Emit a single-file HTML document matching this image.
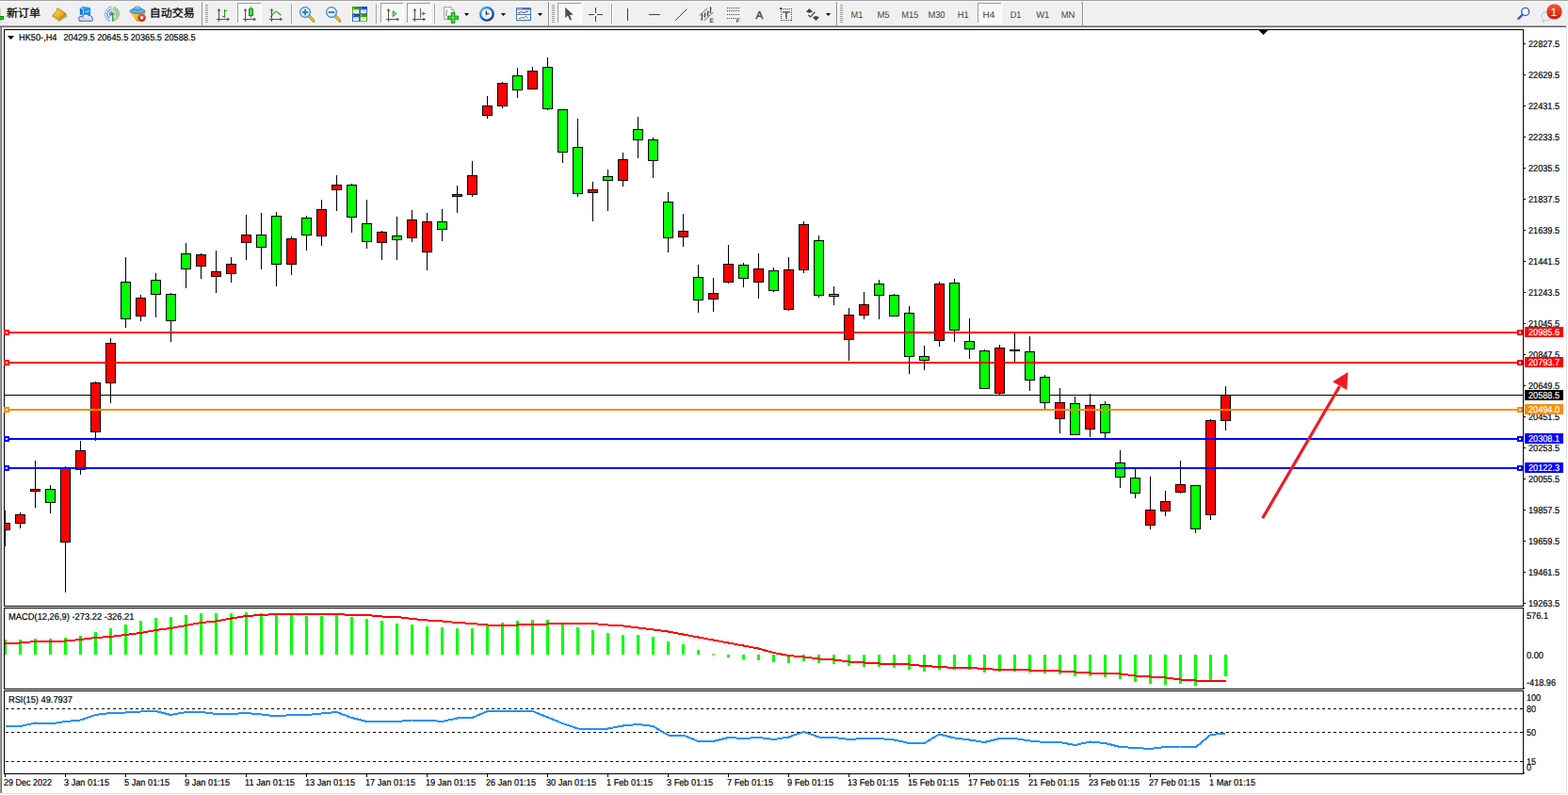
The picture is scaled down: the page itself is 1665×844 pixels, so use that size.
<!DOCTYPE html>
<html><head><meta charset="utf-8"><title>HK50-,H4</title>
<style>
html,body{margin:0;padding:0;background:#fff;}
body{width:1665px;height:844px;overflow:hidden;position:relative;font-family:"Liberation Sans",sans-serif;}
svg{position:absolute;left:0;top:0;display:block}
svg text{font-family:"Liberation Sans",sans-serif;text-rendering:geometricPrecision;}
</style></head><body>
<svg id="chart" width="1665" height="844" viewBox="0 0 1665 844" shape-rendering="crispEdges">
<rect x="0" y="27" width="1" height="815" fill="#a0a0a0"/>
<rect x="1" y="27" width="1" height="815" fill="#696969"/>
<rect x="2" y="842" width="1662" height="1" fill="#e3e3e3"/>
<rect x="1663" y="29" width="1" height="814" fill="#e3e3e3"/>
<rect x="4" y="31" width="1614" height="1" fill="#000"/>
<rect x="4" y="643" width="1614" height="1" fill="#000"/>
<rect x="4" y="31" width="1" height="613" fill="#000"/>
<rect x="1617" y="31" width="1" height="613" fill="#000"/>
<rect x="4" y="645" width="1614" height="1" fill="#000"/>
<rect x="4" y="731" width="1614" height="1" fill="#000"/>
<rect x="4" y="645" width="1" height="87" fill="#000"/>
<rect x="1617" y="645" width="1" height="87" fill="#000"/>
<rect x="4" y="733" width="1614" height="1" fill="#000"/>
<rect x="4" y="821" width="1614" height="1" fill="#000"/>
<rect x="4" y="733" width="1" height="89" fill="#000"/>
<rect x="1617" y="733" width="1" height="89" fill="#000"/>
<rect x="4" y="644" width="1614" height="1" fill="#f0f0f0"/>
<rect x="4" y="732" width="1614" height="1" fill="#f0f0f0"/>
<rect x="1618" y="730" width="1" height="1" fill="#000"/>
<rect x="1618" y="820" width="1" height="1" fill="#000"/>
<rect x="1337" y="32" width="9" height="1" fill="#000"/>
<rect x="1338" y="33" width="7" height="1" fill="#000"/>
<rect x="1339" y="34" width="5" height="1" fill="#000"/>
<rect x="1340" y="35" width="3" height="1" fill="#000"/>
<rect x="1341" y="36" width="1" height="1" fill="#000"/>
<rect x="5" y="419" width="1612" height="1" fill="#000"/>
<rect x="5" y="542" width="1" height="38" fill="#000"/>
<rect x="5" y="555" width="6" height="8" fill="#000"/>
<rect x="5" y="556" width="5" height="6" fill="#ff0000"/>
<rect x="21" y="544" width="1" height="17" fill="#000"/>
<rect x="16" y="546" width="11" height="10" fill="#000"/>
<rect x="17" y="547" width="9" height="8" fill="#ff0000"/>
<rect x="37" y="489" width="1" height="50" fill="#000"/>
<rect x="32" y="519" width="11" height="3" fill="#000"/>
<rect x="33" y="520" width="9" height="1" fill="#ff0000"/>
<rect x="53" y="515" width="1" height="30" fill="#000"/>
<rect x="48" y="519" width="11" height="15" fill="#000"/>
<rect x="49" y="520" width="9" height="13" fill="#00ff00"/>
<rect x="69" y="495" width="1" height="134" fill="#000"/>
<rect x="64" y="497" width="11" height="79" fill="#000"/>
<rect x="65" y="498" width="9" height="77" fill="#ff0000"/>
<rect x="85" y="468" width="1" height="36" fill="#000"/>
<rect x="80" y="478" width="11" height="21" fill="#000"/>
<rect x="81" y="479" width="9" height="19" fill="#ff0000"/>
<rect x="101" y="405" width="1" height="63" fill="#000"/>
<rect x="96" y="406" width="11" height="53" fill="#000"/>
<rect x="97" y="407" width="9" height="51" fill="#ff0000"/>
<rect x="117" y="359" width="1" height="69" fill="#000"/>
<rect x="112" y="364" width="11" height="43" fill="#000"/>
<rect x="113" y="365" width="9" height="41" fill="#ff0000"/>
<rect x="133" y="273" width="1" height="75" fill="#000"/>
<rect x="128" y="299" width="11" height="40" fill="#000"/>
<rect x="129" y="300" width="9" height="38" fill="#00ff00"/>
<rect x="149" y="313" width="1" height="28" fill="#000"/>
<rect x="144" y="316" width="11" height="20" fill="#000"/>
<rect x="145" y="317" width="9" height="18" fill="#ff0000"/>
<rect x="165" y="290" width="1" height="47" fill="#000"/>
<rect x="160" y="297" width="11" height="16" fill="#000"/>
<rect x="161" y="298" width="9" height="14" fill="#00ff00"/>
<rect x="181" y="311" width="1" height="52" fill="#000"/>
<rect x="176" y="312" width="11" height="29" fill="#000"/>
<rect x="177" y="313" width="9" height="27" fill="#00ff00"/>
<rect x="197" y="258" width="1" height="48" fill="#000"/>
<rect x="192" y="269" width="11" height="17" fill="#000"/>
<rect x="193" y="270" width="9" height="15" fill="#00ff00"/>
<rect x="213" y="269" width="1" height="27" fill="#000"/>
<rect x="208" y="270" width="11" height="13" fill="#000"/>
<rect x="209" y="271" width="9" height="11" fill="#ff0000"/>
<rect x="229" y="266" width="1" height="45" fill="#000"/>
<rect x="224" y="288" width="11" height="6" fill="#000"/>
<rect x="225" y="289" width="9" height="4" fill="#ff0000"/>
<rect x="245" y="273" width="1" height="27" fill="#000"/>
<rect x="240" y="280" width="11" height="11" fill="#000"/>
<rect x="241" y="281" width="9" height="9" fill="#ff0000"/>
<rect x="261" y="228" width="1" height="48" fill="#000"/>
<rect x="256" y="249" width="11" height="9" fill="#000"/>
<rect x="257" y="250" width="9" height="7" fill="#ff0000"/>
<rect x="277" y="226" width="1" height="60" fill="#000"/>
<rect x="272" y="249" width="11" height="14" fill="#000"/>
<rect x="273" y="250" width="9" height="12" fill="#00ff00"/>
<rect x="293" y="225" width="1" height="79" fill="#000"/>
<rect x="288" y="229" width="11" height="52" fill="#000"/>
<rect x="289" y="230" width="9" height="50" fill="#00ff00"/>
<rect x="309" y="251" width="1" height="41" fill="#000"/>
<rect x="304" y="253" width="11" height="28" fill="#000"/>
<rect x="305" y="254" width="9" height="26" fill="#ff0000"/>
<rect x="325" y="229" width="1" height="37" fill="#000"/>
<rect x="320" y="231" width="11" height="19" fill="#000"/>
<rect x="321" y="232" width="9" height="17" fill="#00ff00"/>
<rect x="341" y="212" width="1" height="49" fill="#000"/>
<rect x="336" y="222" width="11" height="29" fill="#000"/>
<rect x="337" y="223" width="9" height="27" fill="#ff0000"/>
<rect x="357" y="186" width="1" height="38" fill="#000"/>
<rect x="352" y="196" width="11" height="6" fill="#000"/>
<rect x="353" y="197" width="9" height="4" fill="#ff0000"/>
<rect x="373" y="195" width="1" height="52" fill="#000"/>
<rect x="368" y="196" width="11" height="35" fill="#000"/>
<rect x="369" y="197" width="9" height="33" fill="#00ff00"/>
<rect x="389" y="212" width="1" height="52" fill="#000"/>
<rect x="384" y="237" width="11" height="20" fill="#000"/>
<rect x="385" y="238" width="9" height="18" fill="#00ff00"/>
<rect x="405" y="245" width="1" height="31" fill="#000"/>
<rect x="400" y="246" width="11" height="12" fill="#000"/>
<rect x="401" y="247" width="9" height="10" fill="#ff0000"/>
<rect x="421" y="230" width="1" height="46" fill="#000"/>
<rect x="416" y="250" width="11" height="5" fill="#000"/>
<rect x="417" y="251" width="9" height="3" fill="#00ff00"/>
<rect x="437" y="223" width="1" height="34" fill="#000"/>
<rect x="432" y="233" width="11" height="20" fill="#000"/>
<rect x="433" y="234" width="9" height="18" fill="#ff0000"/>
<rect x="453" y="226" width="1" height="61" fill="#000"/>
<rect x="448" y="235" width="11" height="33" fill="#000"/>
<rect x="449" y="236" width="9" height="31" fill="#ff0000"/>
<rect x="469" y="222" width="1" height="34" fill="#000"/>
<rect x="464" y="235" width="11" height="9" fill="#000"/>
<rect x="465" y="236" width="9" height="7" fill="#00ff00"/>
<rect x="485" y="197" width="1" height="29" fill="#000"/>
<rect x="480" y="206" width="11" height="3" fill="#000"/>
<rect x="481" y="207" width="9" height="1" fill="#ff0000"/>
<rect x="501" y="171" width="1" height="38" fill="#000"/>
<rect x="496" y="186" width="11" height="21" fill="#000"/>
<rect x="497" y="187" width="9" height="19" fill="#ff0000"/>
<rect x="517" y="102" width="1" height="24" fill="#000"/>
<rect x="512" y="112" width="11" height="11" fill="#000"/>
<rect x="513" y="113" width="9" height="9" fill="#ff0000"/>
<rect x="533" y="87" width="1" height="28" fill="#000"/>
<rect x="528" y="88" width="11" height="25" fill="#000"/>
<rect x="529" y="89" width="9" height="23" fill="#ff0000"/>
<rect x="549" y="72" width="1" height="32" fill="#000"/>
<rect x="544" y="80" width="11" height="16" fill="#000"/>
<rect x="545" y="81" width="9" height="14" fill="#00ff00"/>
<rect x="565" y="71" width="1" height="23" fill="#000"/>
<rect x="560" y="75" width="11" height="20" fill="#000"/>
<rect x="561" y="76" width="9" height="18" fill="#ff0000"/>
<rect x="581" y="61" width="1" height="56" fill="#000"/>
<rect x="576" y="71" width="11" height="45" fill="#000"/>
<rect x="577" y="72" width="9" height="43" fill="#00ff00"/>
<rect x="597" y="116" width="1" height="57" fill="#000"/>
<rect x="592" y="116" width="11" height="46" fill="#000"/>
<rect x="593" y="117" width="9" height="44" fill="#00ff00"/>
<rect x="613" y="126" width="1" height="83" fill="#000"/>
<rect x="608" y="156" width="11" height="50" fill="#000"/>
<rect x="609" y="157" width="9" height="48" fill="#00ff00"/>
<rect x="629" y="193" width="1" height="42" fill="#000"/>
<rect x="624" y="201" width="11" height="4" fill="#000"/>
<rect x="625" y="202" width="9" height="2" fill="#ff0000"/>
<rect x="645" y="180" width="1" height="44" fill="#000"/>
<rect x="640" y="187" width="11" height="5" fill="#000"/>
<rect x="641" y="188" width="9" height="3" fill="#00ff00"/>
<rect x="661" y="162" width="1" height="36" fill="#000"/>
<rect x="656" y="169" width="11" height="23" fill="#000"/>
<rect x="657" y="170" width="9" height="21" fill="#ff0000"/>
<rect x="677" y="124" width="1" height="44" fill="#000"/>
<rect x="672" y="137" width="11" height="12" fill="#000"/>
<rect x="673" y="138" width="9" height="10" fill="#00ff00"/>
<rect x="693" y="146" width="1" height="43" fill="#000"/>
<rect x="688" y="148" width="11" height="23" fill="#000"/>
<rect x="689" y="149" width="9" height="21" fill="#00ff00"/>
<rect x="709" y="204" width="1" height="64" fill="#000"/>
<rect x="704" y="214" width="11" height="39" fill="#000"/>
<rect x="705" y="215" width="9" height="37" fill="#00ff00"/>
<rect x="725" y="227" width="1" height="35" fill="#000"/>
<rect x="720" y="245" width="11" height="7" fill="#000"/>
<rect x="721" y="246" width="9" height="5" fill="#ff0000"/>
<rect x="741" y="281" width="1" height="51" fill="#000"/>
<rect x="736" y="294" width="11" height="25" fill="#000"/>
<rect x="737" y="295" width="9" height="23" fill="#00ff00"/>
<rect x="757" y="295" width="1" height="36" fill="#000"/>
<rect x="752" y="311" width="11" height="7" fill="#000"/>
<rect x="753" y="312" width="9" height="5" fill="#ff0000"/>
<rect x="773" y="260" width="1" height="41" fill="#000"/>
<rect x="768" y="280" width="11" height="20" fill="#000"/>
<rect x="769" y="281" width="9" height="18" fill="#ff0000"/>
<rect x="789" y="279" width="1" height="26" fill="#000"/>
<rect x="784" y="281" width="11" height="15" fill="#000"/>
<rect x="785" y="282" width="9" height="13" fill="#00ff00"/>
<rect x="805" y="269" width="1" height="48" fill="#000"/>
<rect x="800" y="285" width="11" height="15" fill="#000"/>
<rect x="801" y="286" width="9" height="13" fill="#ff0000"/>
<rect x="821" y="284" width="1" height="26" fill="#000"/>
<rect x="816" y="287" width="11" height="22" fill="#000"/>
<rect x="817" y="288" width="9" height="20" fill="#00ff00"/>
<rect x="837" y="273" width="1" height="57" fill="#000"/>
<rect x="832" y="286" width="11" height="43" fill="#000"/>
<rect x="833" y="287" width="9" height="41" fill="#ff0000"/>
<rect x="853" y="235" width="1" height="55" fill="#000"/>
<rect x="848" y="238" width="11" height="49" fill="#000"/>
<rect x="849" y="239" width="9" height="47" fill="#ff0000"/>
<rect x="869" y="250" width="1" height="66" fill="#000"/>
<rect x="864" y="255" width="11" height="59" fill="#000"/>
<rect x="865" y="256" width="9" height="57" fill="#00ff00"/>
<rect x="885" y="304" width="1" height="20" fill="#000"/>
<rect x="880" y="312" width="11" height="3" fill="#000"/>
<rect x="881" y="313" width="9" height="1" fill="#00ff00"/>
<rect x="901" y="327" width="1" height="56" fill="#000"/>
<rect x="896" y="334" width="11" height="27" fill="#000"/>
<rect x="897" y="335" width="9" height="25" fill="#ff0000"/>
<rect x="917" y="310" width="1" height="29" fill="#000"/>
<rect x="912" y="323" width="11" height="12" fill="#000"/>
<rect x="913" y="324" width="9" height="10" fill="#ff0000"/>
<rect x="933" y="297" width="1" height="42" fill="#000"/>
<rect x="928" y="301" width="11" height="13" fill="#000"/>
<rect x="929" y="302" width="9" height="11" fill="#00ff00"/>
<rect x="949" y="312" width="1" height="23" fill="#000"/>
<rect x="944" y="313" width="11" height="23" fill="#000"/>
<rect x="945" y="314" width="9" height="21" fill="#00ff00"/>
<rect x="965" y="325" width="1" height="72" fill="#000"/>
<rect x="960" y="332" width="11" height="47" fill="#000"/>
<rect x="961" y="333" width="9" height="45" fill="#00ff00"/>
<rect x="981" y="367" width="1" height="26" fill="#000"/>
<rect x="976" y="378" width="11" height="5" fill="#000"/>
<rect x="977" y="379" width="9" height="3" fill="#00ff00"/>
<rect x="997" y="299" width="1" height="69" fill="#000"/>
<rect x="992" y="301" width="11" height="61" fill="#000"/>
<rect x="993" y="302" width="9" height="59" fill="#ff0000"/>
<rect x="1013" y="296" width="1" height="67" fill="#000"/>
<rect x="1008" y="300" width="11" height="51" fill="#000"/>
<rect x="1009" y="301" width="9" height="49" fill="#00ff00"/>
<rect x="1029" y="338" width="1" height="43" fill="#000"/>
<rect x="1024" y="362" width="11" height="9" fill="#000"/>
<rect x="1025" y="363" width="9" height="7" fill="#00ff00"/>
<rect x="1045" y="371" width="1" height="41" fill="#000"/>
<rect x="1040" y="372" width="11" height="41" fill="#000"/>
<rect x="1041" y="373" width="9" height="39" fill="#00ff00"/>
<rect x="1061" y="366" width="1" height="53" fill="#000"/>
<rect x="1056" y="369" width="11" height="49" fill="#000"/>
<rect x="1057" y="370" width="9" height="47" fill="#ff0000"/>
<rect x="1077" y="354" width="1" height="30" fill="#000"/>
<rect x="1072" y="371" width="11" height="2" fill="#000"/>
<rect x="1093" y="357" width="1" height="58" fill="#000"/>
<rect x="1088" y="373" width="11" height="31" fill="#000"/>
<rect x="1089" y="374" width="9" height="29" fill="#00ff00"/>
<rect x="1109" y="398" width="1" height="36" fill="#000"/>
<rect x="1104" y="400" width="11" height="28" fill="#000"/>
<rect x="1105" y="401" width="9" height="26" fill="#00ff00"/>
<rect x="1125" y="412" width="1" height="48" fill="#000"/>
<rect x="1120" y="427" width="11" height="18" fill="#000"/>
<rect x="1121" y="428" width="9" height="16" fill="#ff0000"/>
<rect x="1141" y="421" width="1" height="40" fill="#000"/>
<rect x="1136" y="428" width="11" height="34" fill="#000"/>
<rect x="1137" y="429" width="9" height="32" fill="#00ff00"/>
<rect x="1157" y="418" width="1" height="46" fill="#000"/>
<rect x="1152" y="430" width="11" height="26" fill="#000"/>
<rect x="1153" y="431" width="9" height="24" fill="#ff0000"/>
<rect x="1173" y="426" width="1" height="39" fill="#000"/>
<rect x="1168" y="429" width="11" height="31" fill="#000"/>
<rect x="1169" y="430" width="9" height="29" fill="#00ff00"/>
<rect x="1189" y="478" width="1" height="40" fill="#000"/>
<rect x="1184" y="491" width="11" height="16" fill="#000"/>
<rect x="1185" y="492" width="9" height="14" fill="#00ff00"/>
<rect x="1205" y="498" width="1" height="31" fill="#000"/>
<rect x="1200" y="507" width="11" height="17" fill="#000"/>
<rect x="1201" y="508" width="9" height="15" fill="#00ff00"/>
<rect x="1221" y="506" width="1" height="56" fill="#000"/>
<rect x="1216" y="541" width="11" height="17" fill="#000"/>
<rect x="1217" y="542" width="9" height="15" fill="#ff0000"/>
<rect x="1237" y="521" width="1" height="27" fill="#000"/>
<rect x="1232" y="532" width="11" height="11" fill="#000"/>
<rect x="1233" y="533" width="9" height="9" fill="#ff0000"/>
<rect x="1253" y="489" width="1" height="35" fill="#000"/>
<rect x="1248" y="514" width="11" height="9" fill="#000"/>
<rect x="1249" y="515" width="9" height="7" fill="#ff0000"/>
<rect x="1269" y="515" width="1" height="51" fill="#000"/>
<rect x="1264" y="515" width="11" height="47" fill="#000"/>
<rect x="1265" y="516" width="9" height="45" fill="#00ff00"/>
<rect x="1285" y="445" width="1" height="107" fill="#000"/>
<rect x="1280" y="446" width="11" height="101" fill="#000"/>
<rect x="1281" y="447" width="9" height="99" fill="#ff0000"/>
<rect x="1301" y="410" width="1" height="47" fill="#000"/>
<rect x="1296" y="419" width="11" height="28" fill="#000"/>
<rect x="1297" y="420" width="9" height="26" fill="#ff0000"/>
<rect x="5" y="352" width="1612" height="2" fill="#ff0000"/>
<rect x="4" y="350" width="6" height="6" fill="#ff0000"/>
<rect x="6" y="352" width="2" height="2" fill="#fff"/>
<rect x="1611" y="350" width="6" height="6" fill="#ff0000"/>
<rect x="1613" y="352" width="2" height="2" fill="#fff"/>
<rect x="5" y="384" width="1612" height="2" fill="#ff0000"/>
<rect x="4" y="382" width="6" height="6" fill="#ff0000"/>
<rect x="6" y="384" width="2" height="2" fill="#fff"/>
<rect x="1611" y="382" width="6" height="6" fill="#ff0000"/>
<rect x="1613" y="384" width="2" height="2" fill="#fff"/>
<rect x="5" y="434" width="1612" height="2" fill="#ff8c00"/>
<rect x="4" y="432" width="6" height="6" fill="#ff8c00"/>
<rect x="6" y="434" width="2" height="2" fill="#fff"/>
<rect x="1611" y="432" width="6" height="6" fill="#ff8c00"/>
<rect x="1613" y="434" width="2" height="2" fill="#fff"/>
<rect x="5" y="465" width="1612" height="2" fill="#0000ff"/>
<rect x="4" y="463" width="6" height="6" fill="#0000ff"/>
<rect x="6" y="465" width="2" height="2" fill="#fff"/>
<rect x="1611" y="463" width="6" height="6" fill="#0000ff"/>
<rect x="1613" y="465" width="2" height="2" fill="#fff"/>
<rect x="5" y="496" width="1612" height="2" fill="#0000ff"/>
<rect x="4" y="494" width="6" height="6" fill="#0000ff"/>
<rect x="6" y="496" width="2" height="2" fill="#fff"/>
<rect x="1611" y="494" width="6" height="6" fill="#0000ff"/>
<rect x="1613" y="496" width="2" height="2" fill="#fff"/>
<rect x="1618" y="46" width="2" height="1" fill="#000"/>
<text x="1623" y="50" font-size="10" fill="#000" stroke="#000" stroke-width="0.2" textLength="33" lengthAdjust="spacingAndGlyphs">22827.5</text>
<rect x="1618" y="79" width="2" height="1" fill="#000"/>
<text x="1623" y="83" font-size="10" fill="#000" stroke="#000" stroke-width="0.2" textLength="33" lengthAdjust="spacingAndGlyphs">22629.5</text>
<rect x="1618" y="112" width="2" height="1" fill="#000"/>
<text x="1623" y="116" font-size="10" fill="#000" stroke="#000" stroke-width="0.2" textLength="33" lengthAdjust="spacingAndGlyphs">22431.5</text>
<rect x="1618" y="145" width="2" height="1" fill="#000"/>
<text x="1623" y="149" font-size="10" fill="#000" stroke="#000" stroke-width="0.2" textLength="33" lengthAdjust="spacingAndGlyphs">22233.5</text>
<rect x="1618" y="178" width="2" height="1" fill="#000"/>
<text x="1623" y="182" font-size="10" fill="#000" stroke="#000" stroke-width="0.2" textLength="33" lengthAdjust="spacingAndGlyphs">22035.5</text>
<rect x="1618" y="211" width="2" height="1" fill="#000"/>
<text x="1623" y="215" font-size="10" fill="#000" stroke="#000" stroke-width="0.2" textLength="33" lengthAdjust="spacingAndGlyphs">21837.5</text>
<rect x="1618" y="244" width="2" height="1" fill="#000"/>
<text x="1623" y="248" font-size="10" fill="#000" stroke="#000" stroke-width="0.2" textLength="33" lengthAdjust="spacingAndGlyphs">21639.5</text>
<rect x="1618" y="277" width="2" height="1" fill="#000"/>
<text x="1623" y="281" font-size="10" fill="#000" stroke="#000" stroke-width="0.2" textLength="33" lengthAdjust="spacingAndGlyphs">21441.5</text>
<rect x="1618" y="310" width="2" height="1" fill="#000"/>
<text x="1623" y="314" font-size="10" fill="#000" stroke="#000" stroke-width="0.2" textLength="33" lengthAdjust="spacingAndGlyphs">21243.5</text>
<rect x="1618" y="343" width="2" height="1" fill="#000"/>
<text x="1623" y="347" font-size="10" fill="#000" stroke="#000" stroke-width="0.2" textLength="33" lengthAdjust="spacingAndGlyphs">21045.5</text>
<rect x="1618" y="376" width="2" height="1" fill="#000"/>
<text x="1623" y="380" font-size="10" fill="#000" stroke="#000" stroke-width="0.2" textLength="33" lengthAdjust="spacingAndGlyphs">20847.5</text>
<rect x="1618" y="409" width="2" height="1" fill="#000"/>
<text x="1623" y="413" font-size="10" fill="#000" stroke="#000" stroke-width="0.2" textLength="33" lengthAdjust="spacingAndGlyphs">20649.5</text>
<rect x="1618" y="442" width="2" height="1" fill="#000"/>
<text x="1623" y="446" font-size="10" fill="#000" stroke="#000" stroke-width="0.2" textLength="33" lengthAdjust="spacingAndGlyphs">20451.5</text>
<rect x="1618" y="475" width="2" height="1" fill="#000"/>
<text x="1623" y="479" font-size="10" fill="#000" stroke="#000" stroke-width="0.2" textLength="33" lengthAdjust="spacingAndGlyphs">20253.5</text>
<rect x="1618" y="508" width="2" height="1" fill="#000"/>
<text x="1623" y="512" font-size="10" fill="#000" stroke="#000" stroke-width="0.2" textLength="33" lengthAdjust="spacingAndGlyphs">20055.5</text>
<rect x="1618" y="541" width="2" height="1" fill="#000"/>
<text x="1623" y="545" font-size="10" fill="#000" stroke="#000" stroke-width="0.2" textLength="33" lengthAdjust="spacingAndGlyphs">19857.5</text>
<rect x="1618" y="574" width="2" height="1" fill="#000"/>
<text x="1623" y="578" font-size="10" fill="#000" stroke="#000" stroke-width="0.2" textLength="33" lengthAdjust="spacingAndGlyphs">19659.5</text>
<rect x="1618" y="607" width="2" height="1" fill="#000"/>
<text x="1623" y="611" font-size="10" fill="#000" stroke="#000" stroke-width="0.2" textLength="33" lengthAdjust="spacingAndGlyphs">19461.5</text>
<rect x="1618" y="640" width="2" height="1" fill="#000"/>
<text x="1623" y="644" font-size="10" fill="#000" stroke="#000" stroke-width="0.2" textLength="33" lengthAdjust="spacingAndGlyphs">19263.5</text>
<rect x="1619" y="347" width="41" height="11" fill="#ff0000"/>
<text x="1623" y="356" font-size="10" fill="#fff" stroke="#fff" stroke-width="0.2" textLength="33" lengthAdjust="spacingAndGlyphs">20985.6</text>
<rect x="1619" y="379" width="41" height="11" fill="#ff0000"/>
<text x="1623" y="388" font-size="10" fill="#fff" stroke="#fff" stroke-width="0.2" textLength="33" lengthAdjust="spacingAndGlyphs">20793.7</text>
<rect x="1619" y="414" width="41" height="11" fill="#000"/>
<text x="1623" y="423" font-size="10" fill="#fff" stroke="#fff" stroke-width="0.2" textLength="33" lengthAdjust="spacingAndGlyphs">20588.5</text>
<rect x="1619" y="429" width="41" height="11" fill="#ff8c00"/>
<text x="1623" y="438" font-size="10" fill="#fff" stroke="#fff" stroke-width="0.2" textLength="33" lengthAdjust="spacingAndGlyphs">20494.0</text>
<rect x="1619" y="460" width="41" height="11" fill="#0000ff"/>
<text x="1623" y="469" font-size="10" fill="#fff" stroke="#fff" stroke-width="0.2" textLength="33" lengthAdjust="spacingAndGlyphs">20308.1</text>
<rect x="1619" y="491" width="41" height="11" fill="#0000ff"/>
<text x="1623" y="500" font-size="10" fill="#fff" stroke="#fff" stroke-width="0.2" textLength="33" lengthAdjust="spacingAndGlyphs">20122.3</text>
<path d="M8 38h7l-3.5 4z" fill="#000" shape-rendering="auto"/>
<text x="20" y="43" font-size="10" fill="#000" stroke="#000" stroke-width="0.2" textLength="40.5" lengthAdjust="spacingAndGlyphs">HK50-,H4</text>
<text x="67.5" y="43" font-size="10" fill="#000" stroke="#000" stroke-width="0.2" textLength="140" lengthAdjust="spacingAndGlyphs">20429.5 20645.5 20365.5 20588.5</text>
<rect x="5" y="679" width="2" height="16" fill="#00ff00"/>
<rect x="20" y="679" width="3" height="16" fill="#00ff00"/>
<rect x="36" y="678" width="3" height="17" fill="#00ff00"/>
<rect x="52" y="678" width="3" height="17" fill="#00ff00"/>
<rect x="68" y="677" width="3" height="18" fill="#00ff00"/>
<rect x="84" y="675" width="3" height="20" fill="#00ff00"/>
<rect x="100" y="671" width="3" height="24" fill="#00ff00"/>
<rect x="116" y="667" width="3" height="28" fill="#00ff00"/>
<rect x="132" y="663" width="3" height="32" fill="#00ff00"/>
<rect x="148" y="659" width="3" height="36" fill="#00ff00"/>
<rect x="164" y="656" width="3" height="39" fill="#00ff00"/>
<rect x="180" y="655" width="3" height="40" fill="#00ff00"/>
<rect x="196" y="653" width="3" height="42" fill="#00ff00"/>
<rect x="212" y="651" width="3" height="44" fill="#00ff00"/>
<rect x="228" y="651" width="3" height="44" fill="#00ff00"/>
<rect x="244" y="651" width="3" height="44" fill="#00ff00"/>
<rect x="260" y="650" width="3" height="45" fill="#00ff00"/>
<rect x="276" y="651" width="3" height="44" fill="#00ff00"/>
<rect x="292" y="652" width="3" height="43" fill="#00ff00"/>
<rect x="308" y="653" width="3" height="42" fill="#00ff00"/>
<rect x="324" y="654" width="3" height="41" fill="#00ff00"/>
<rect x="340" y="654" width="3" height="41" fill="#00ff00"/>
<rect x="356" y="653" width="3" height="42" fill="#00ff00"/>
<rect x="372" y="655" width="3" height="40" fill="#00ff00"/>
<rect x="388" y="657" width="3" height="38" fill="#00ff00"/>
<rect x="404" y="659" width="3" height="36" fill="#00ff00"/>
<rect x="420" y="662" width="3" height="33" fill="#00ff00"/>
<rect x="436" y="663" width="3" height="32" fill="#00ff00"/>
<rect x="452" y="665" width="3" height="30" fill="#00ff00"/>
<rect x="468" y="666" width="3" height="29" fill="#00ff00"/>
<rect x="484" y="667" width="3" height="28" fill="#00ff00"/>
<rect x="500" y="667" width="3" height="28" fill="#00ff00"/>
<rect x="516" y="664" width="3" height="31" fill="#00ff00"/>
<rect x="532" y="661" width="3" height="34" fill="#00ff00"/>
<rect x="548" y="659" width="3" height="36" fill="#00ff00"/>
<rect x="564" y="658" width="3" height="37" fill="#00ff00"/>
<rect x="580" y="658" width="3" height="37" fill="#00ff00"/>
<rect x="596" y="661" width="3" height="34" fill="#00ff00"/>
<rect x="612" y="666" width="3" height="29" fill="#00ff00"/>
<rect x="628" y="669" width="3" height="26" fill="#00ff00"/>
<rect x="644" y="672" width="3" height="23" fill="#00ff00"/>
<rect x="660" y="674" width="3" height="21" fill="#00ff00"/>
<rect x="676" y="674" width="3" height="21" fill="#00ff00"/>
<rect x="692" y="676" width="3" height="19" fill="#00ff00"/>
<rect x="708" y="681" width="3" height="14" fill="#00ff00"/>
<rect x="724" y="684" width="3" height="11" fill="#00ff00"/>
<rect x="740" y="690" width="3" height="5" fill="#00ff00"/>
<rect x="756" y="694" width="3" height="1" fill="#00ff00"/>
<rect x="772" y="695" width="3" height="3" fill="#00ff00"/>
<rect x="788" y="695" width="3" height="5" fill="#00ff00"/>
<rect x="804" y="695" width="3" height="6" fill="#00ff00"/>
<rect x="820" y="695" width="3" height="8" fill="#00ff00"/>
<rect x="836" y="695" width="3" height="9" fill="#00ff00"/>
<rect x="852" y="695" width="3" height="7" fill="#00ff00"/>
<rect x="868" y="695" width="3" height="9" fill="#00ff00"/>
<rect x="884" y="695" width="3" height="10" fill="#00ff00"/>
<rect x="900" y="695" width="3" height="12" fill="#00ff00"/>
<rect x="916" y="695" width="3" height="13" fill="#00ff00"/>
<rect x="932" y="695" width="3" height="13" fill="#00ff00"/>
<rect x="948" y="695" width="3" height="14" fill="#00ff00"/>
<rect x="964" y="695" width="3" height="16" fill="#00ff00"/>
<rect x="980" y="695" width="3" height="18" fill="#00ff00"/>
<rect x="996" y="695" width="3" height="16" fill="#00ff00"/>
<rect x="1012" y="695" width="3" height="16" fill="#00ff00"/>
<rect x="1028" y="695" width="3" height="16" fill="#00ff00"/>
<rect x="1044" y="695" width="3" height="19" fill="#00ff00"/>
<rect x="1060" y="695" width="3" height="18" fill="#00ff00"/>
<rect x="1076" y="695" width="3" height="18" fill="#00ff00"/>
<rect x="1092" y="695" width="3" height="19" fill="#00ff00"/>
<rect x="1108" y="695" width="3" height="20" fill="#00ff00"/>
<rect x="1124" y="695" width="3" height="21" fill="#00ff00"/>
<rect x="1140" y="695" width="3" height="23" fill="#00ff00"/>
<rect x="1156" y="695" width="3" height="23" fill="#00ff00"/>
<rect x="1172" y="695" width="3" height="24" fill="#00ff00"/>
<rect x="1188" y="695" width="3" height="26" fill="#00ff00"/>
<rect x="1204" y="695" width="3" height="29" fill="#00ff00"/>
<rect x="1220" y="695" width="3" height="31" fill="#00ff00"/>
<rect x="1236" y="695" width="3" height="32" fill="#00ff00"/>
<rect x="1252" y="695" width="3" height="31" fill="#00ff00"/>
<rect x="1268" y="695" width="3" height="33" fill="#00ff00"/>
<rect x="1284" y="695" width="3" height="27" fill="#00ff00"/>
<rect x="1300" y="695" width="3" height="23" fill="#00ff00"/>
<polyline points="5.5,683 21.5,682.5 37.5,681 53.5,681 69.5,680.5 85.5,679 101.5,677 117.5,676 133.5,674 149.5,672 165.5,669 181.5,667 197.5,664 213.5,661 229.5,659.5 245.5,656.5 261.5,654 277.5,653 293.5,652 309.5,652 325.5,652 341.5,652 357.5,652 373.5,653 389.5,653 405.5,654.5 421.5,655 437.5,657 453.5,658.5 469.5,659.5 485.5,661 501.5,662 517.5,663.5 533.5,663.5 549.5,663.5 565.5,663 581.5,662.5 597.5,662 613.5,662 629.5,662 645.5,663.5 661.5,664.5 677.5,666.5 693.5,668.5 709.5,670.5 725.5,673.5 741.5,676.5 757.5,679.5 773.5,682.5 789.5,685.5 805.5,688.5 821.5,693 837.5,696 853.5,697.5 869.5,699.5 885.5,700.5 901.5,702.5 917.5,703.5 933.5,704.5 949.5,705 965.5,705.5 981.5,707 997.5,708 1013.5,709 1029.5,709 1045.5,710 1061.5,711 1077.5,711 1093.5,711.5 1109.5,712 1125.5,712.5 1141.5,713.5 1157.5,714.5 1173.5,715 1189.5,715.5 1205.5,717.5 1221.5,718.5 1237.5,719.5 1253.5,721.5 1269.5,722.5 1285.5,722.5 1301.5,722.5" fill="none" stroke="#ff0000" stroke-width="2" stroke-linejoin="round"/>
<text x="9" y="658" font-size="10" fill="#000" stroke="#000" stroke-width="0.2" textLength="133.5" lengthAdjust="spacingAndGlyphs">MACD(12,26,9) -273.22 -326.21</text>
<text x="1621" y="657" font-size="10" fill="#000" stroke="#000" stroke-width="0.2" textLength="23" lengthAdjust="spacingAndGlyphs">576.1</text>
<text x="1621" y="699" font-size="10" fill="#000" stroke="#000" stroke-width="0.2" textLength="18" lengthAdjust="spacingAndGlyphs">0.00</text>
<text x="1621" y="728" font-size="10" fill="#000" stroke="#000" stroke-width="0.2" textLength="31" lengthAdjust="spacingAndGlyphs">-418.96</text>
<path d="M6 752.5H1617" stroke="#000" stroke-width="1" stroke-dasharray="3 3" fill="none"/>
<path d="M6 777.5H1617" stroke="#000" stroke-width="1" stroke-dasharray="3 3" fill="none"/>
<path d="M6 808.5H1617" stroke="#000" stroke-width="1" stroke-dasharray="3 3" fill="none"/>
<polyline points="5.5,771 21.5,771 37.5,767.5 53.5,768.5 69.5,766 85.5,764.5 101.5,759 117.5,757 133.5,756.5 149.5,755.5 165.5,755 181.5,759 197.5,756 213.5,756 229.5,758 245.5,758 261.5,757 277.5,758.5 293.5,760.5 309.5,759 325.5,759 341.5,757.5 357.5,756 373.5,762 389.5,766 405.5,766 421.5,766 437.5,764.5 453.5,764.5 469.5,766 485.5,762.5 501.5,762 517.5,755 533.5,755 549.5,755 565.5,755 581.5,761.5 597.5,768 613.5,773.5 629.5,773.5 645.5,773.5 661.5,770.5 677.5,769 693.5,771 709.5,780.5 725.5,780.5 741.5,787 757.5,787 773.5,783 789.5,784 805.5,783 821.5,785 837.5,782.5 853.5,777 869.5,782.5 885.5,783 901.5,785 917.5,784 933.5,784 949.5,785.5 965.5,789 981.5,789 997.5,779.5 1013.5,783.5 1029.5,785.5 1045.5,788 1061.5,784 1077.5,784 1093.5,786.5 1109.5,788 1125.5,788 1141.5,791 1157.5,787.5 1173.5,789 1189.5,793 1205.5,794 1221.5,795 1237.5,793 1253.5,792.5 1269.5,793.5 1285.5,780 1301.5,778.5" fill="none" stroke="#1e90ff" stroke-width="2" stroke-linejoin="round"/>
<text x="9" y="746" font-size="10" fill="#000" stroke="#000" stroke-width="0.2" textLength="68" lengthAdjust="spacingAndGlyphs">RSI(15) 49.7937</text>
<text x="1621" y="744" font-size="10" fill="#000" stroke="#000" stroke-width="0.2" textLength="15" lengthAdjust="spacingAndGlyphs">100</text>
<text x="1621" y="756" font-size="10" fill="#000" stroke="#000" stroke-width="0.2" textLength="10" lengthAdjust="spacingAndGlyphs">80</text>
<text x="1621" y="781" font-size="10" fill="#000" stroke="#000" stroke-width="0.2" textLength="10" lengthAdjust="spacingAndGlyphs">50</text>
<text x="1621" y="812" font-size="10" fill="#000" stroke="#000" stroke-width="0.2" textLength="10" lengthAdjust="spacingAndGlyphs">15</text>
<text x="1621" y="818" font-size="10" fill="#000" stroke="#000" stroke-width="0.2" textLength="5" lengthAdjust="spacingAndGlyphs">0</text>
<rect x="5" y="822" width="1" height="3" fill="#000"/>
<text x="4" y="834" font-size="10" fill="#000" stroke="#000" stroke-width="0.2" textLength="51" lengthAdjust="spacingAndGlyphs">29 Dec 2022</text>
<rect x="69" y="822" width="1" height="3" fill="#000"/>
<text x="68" y="834" font-size="10" fill="#000" stroke="#000" stroke-width="0.2" textLength="48" lengthAdjust="spacingAndGlyphs">3 Jan 01:15</text>
<rect x="133" y="822" width="1" height="3" fill="#000"/>
<text x="132" y="834" font-size="10" fill="#000" stroke="#000" stroke-width="0.2" textLength="48" lengthAdjust="spacingAndGlyphs">5 Jan 01:15</text>
<rect x="197" y="822" width="1" height="3" fill="#000"/>
<text x="196" y="834" font-size="10" fill="#000" stroke="#000" stroke-width="0.2" textLength="48" lengthAdjust="spacingAndGlyphs">9 Jan 01:15</text>
<rect x="261" y="822" width="1" height="3" fill="#000"/>
<text x="260" y="834" font-size="10" fill="#000" stroke="#000" stroke-width="0.2" textLength="53" lengthAdjust="spacingAndGlyphs">11 Jan 01:15</text>
<rect x="325" y="822" width="1" height="3" fill="#000"/>
<text x="324" y="834" font-size="10" fill="#000" stroke="#000" stroke-width="0.2" textLength="53" lengthAdjust="spacingAndGlyphs">13 Jan 01:15</text>
<rect x="389" y="822" width="1" height="3" fill="#000"/>
<text x="388" y="834" font-size="10" fill="#000" stroke="#000" stroke-width="0.2" textLength="53" lengthAdjust="spacingAndGlyphs">17 Jan 01:15</text>
<rect x="453" y="822" width="1" height="3" fill="#000"/>
<text x="452" y="834" font-size="10" fill="#000" stroke="#000" stroke-width="0.2" textLength="53" lengthAdjust="spacingAndGlyphs">19 Jan 01:15</text>
<rect x="517" y="822" width="1" height="3" fill="#000"/>
<text x="516" y="834" font-size="10" fill="#000" stroke="#000" stroke-width="0.2" textLength="53" lengthAdjust="spacingAndGlyphs">26 Jan 01:15</text>
<rect x="581" y="822" width="1" height="3" fill="#000"/>
<text x="580" y="834" font-size="10" fill="#000" stroke="#000" stroke-width="0.2" textLength="53" lengthAdjust="spacingAndGlyphs">30 Jan 01:15</text>
<rect x="645" y="822" width="1" height="3" fill="#000"/>
<text x="644" y="834" font-size="10" fill="#000" stroke="#000" stroke-width="0.2" textLength="49" lengthAdjust="spacingAndGlyphs">1 Feb 01:15</text>
<rect x="709" y="822" width="1" height="3" fill="#000"/>
<text x="708" y="834" font-size="10" fill="#000" stroke="#000" stroke-width="0.2" textLength="49" lengthAdjust="spacingAndGlyphs">3 Feb 01:15</text>
<rect x="773" y="822" width="1" height="3" fill="#000"/>
<text x="772" y="834" font-size="10" fill="#000" stroke="#000" stroke-width="0.2" textLength="49" lengthAdjust="spacingAndGlyphs">7 Feb 01:15</text>
<rect x="837" y="822" width="1" height="3" fill="#000"/>
<text x="836" y="834" font-size="10" fill="#000" stroke="#000" stroke-width="0.2" textLength="49" lengthAdjust="spacingAndGlyphs">9 Feb 01:15</text>
<rect x="901" y="822" width="1" height="3" fill="#000"/>
<text x="900" y="834" font-size="10" fill="#000" stroke="#000" stroke-width="0.2" textLength="54" lengthAdjust="spacingAndGlyphs">13 Feb 01:15</text>
<rect x="965" y="822" width="1" height="3" fill="#000"/>
<text x="964" y="834" font-size="10" fill="#000" stroke="#000" stroke-width="0.2" textLength="54" lengthAdjust="spacingAndGlyphs">15 Feb 01:15</text>
<rect x="1029" y="822" width="1" height="3" fill="#000"/>
<text x="1028" y="834" font-size="10" fill="#000" stroke="#000" stroke-width="0.2" textLength="54" lengthAdjust="spacingAndGlyphs">17 Feb 01:15</text>
<rect x="1093" y="822" width="1" height="3" fill="#000"/>
<text x="1092" y="834" font-size="10" fill="#000" stroke="#000" stroke-width="0.2" textLength="54" lengthAdjust="spacingAndGlyphs">21 Feb 01:15</text>
<rect x="1157" y="822" width="1" height="3" fill="#000"/>
<text x="1156" y="834" font-size="10" fill="#000" stroke="#000" stroke-width="0.2" textLength="54" lengthAdjust="spacingAndGlyphs">23 Feb 01:15</text>
<rect x="1221" y="822" width="1" height="3" fill="#000"/>
<text x="1220" y="834" font-size="10" fill="#000" stroke="#000" stroke-width="0.2" textLength="54" lengthAdjust="spacingAndGlyphs">27 Feb 01:15</text>
<rect x="1285" y="822" width="1" height="3" fill="#000"/>
<text x="1284" y="834" font-size="10" fill="#000" stroke="#000" stroke-width="0.2" textLength="49" lengthAdjust="spacingAndGlyphs">1 Mar 01:15</text>
<g shape-rendering="auto"><path d="M1340.7 550.1L1422.5 410" stroke="#ed1c24" stroke-width="3.2" fill="none"/><path d="M1431.4 394.9L1415 405.2L1430.3 414.1z" fill="#ed1c24"/></g>
</svg>
<svg id="toolbar" width="1665" height="29" viewBox="0 0 1665 29">
<rect x="0" y="0" width="1665" height="29" fill="#f0f0f0"/>
<rect x="0" y="0" width="1665" height="1" fill="#a0a0a0"/><rect x="0" y="1" width="1665" height="1" fill="#fafafa"/>
<rect x="0" y="27" width="1663" height="1" fill="#a0a0a0"/><rect x="0" y="28" width="1663" height="1" fill="#696969"/>
<rect x="1663" y="27" width="2" height="2" fill="#fff"/>
<rect x="0" y="9" width="1" height="15" fill="#cdcdcd"/><rect x="0" y="17" width="4" height="4" fill="#008a00" shape-rendering="crispEdges"/><rect x="0" y="18" width="3" height="2" fill="#00e000" shape-rendering="crispEdges"/>
<text x="7" y="18.2" font-size="12" fill="#000" stroke="#000" stroke-width="0.25" style="font-family:'Liberation Sans','Noto Sans CJK SC',sans-serif">新订单</text>
<defs><linearGradient id="gd" x1="0" y1="0" x2="1" y2="1"><stop offset="0" stop-color="#ffe24a"/><stop offset="0.6" stop-color="#e6b21e"/><stop offset="1" stop-color="#b8801a"/></linearGradient><linearGradient id="bl" x1="0" y1="0" x2="0" y2="1"><stop offset="0" stop-color="#5cb6ff"/><stop offset="1" stop-color="#0a6ad8"/></linearGradient><linearGradient id="rd" x1="0" y1="0" x2="0" y2="1"><stop offset="0" stop-color="#ee5a36"/><stop offset="1" stop-color="#cf1a0c"/></linearGradient><radialGradient id="gl" cx="0.4" cy="0.35" r="0.7"><stop offset="0" stop-color="#ffffff"/><stop offset="1" stop-color="#bfe0f7"/></radialGradient></defs>
<path d="M60.700 7.900c-.3 1.900-1.300 3.900-1.800 4.700l-4 4.700 7.700 5.800 8.500-5.900-1.100-3.100z" fill="#a8721a"/>
<path d="M61.300 9.300l8 5.300-6.400 5.900-6.400-4.200c1.600-1.700 4-4.400 4.800-7z" fill="url(#gd)"/>
<path d="M56 17.400l6.700 4.600" stroke="#f6dc80" stroke-width="1.100" fill="none"/><path d="M63.400 21.500l6.700-5.500" stroke="#eadfae" stroke-width="0.900" fill="none"/>
<defs><linearGradient id="cl" x1="0" y1="0" x2="0" y2="1"><stop offset="0" stop-color="#ffffff"/><stop offset="1" stop-color="#c2cbe0"/></linearGradient></defs>
<path d="M84.900 8.200l3.600-1.300 7.600 1.300v8.200h-7.800l-3.400-1.200z" fill="#1b8ff6"/><path d="M84.900 8.200l3.500 1.300v6.900l-3.500-1.200z" fill="#0a7ae6"/><path d="M84.900 8.200l3.600-1.300 7.600 1.300-7.700 1.300z" fill="#3aa8ff"/>
<path d="M85.300 8.400l3.100 1.200v6.200" stroke="#e6f4ff" stroke-width="0.800" fill="none"/><path d="M90.300 12.500l4.500-.6" stroke="#f2f9ff" stroke-width="0.900"/>
<defs><linearGradient id="cl2" gradientUnits="userSpaceOnUse" x1="0" y1="15.500" x2="0" y2="22.500"><stop offset="0" stop-color="#ffffff"/><stop offset="1" stop-color="#bcc6dc"/></linearGradient></defs>
<g fill="#4f6ca6" stroke="#4f6ca6" stroke-width="1.700"><circle cx="86" cy="19.900" r="2"/><circle cx="91.200" cy="18.400" r="2.900"/><circle cx="95.400" cy="19" r="2"/><circle cx="96.600" cy="20.500" r="1.500"/><rect x="85.500" y="19.500" width="11.500" height="2.500"/></g><g fill="url(#cl2)"><circle cx="86" cy="19.900" r="2"/><circle cx="91.200" cy="18.400" r="2.900"/><circle cx="95.400" cy="19" r="2"/><circle cx="96.600" cy="20.500" r="1.500"/><rect x="85.500" y="19.500" width="11.500" height="2.500"/></g>
<defs><radialGradient id="sg" gradientUnits="userSpaceOnUse" cx="119" cy="14.800" r="8"><stop offset="0" stop-color="#e8f4e8" stop-opacity="0.100"/><stop offset="0.600" stop-color="#a8d4a8" stop-opacity="0.450"/><stop offset="1" stop-color="#58a858" stop-opacity="0.800"/></radialGradient></defs>
<path d="M119 14.800L120.300 7.100A7.800 7.800 0 0 1 119.600 22.600z" fill="url(#sg)"/>
<g fill="none"><path d="M118.600 7.200a7.700 7.700 0 0 0-1.600 15" stroke="#8fb0ea" stroke-width="1.300"/><path d="M118.700 9.800a5.100 5.100 0 0 0-2.200 9.500" stroke="#5f8be0" stroke-width="1.200"/><path d="M118.800 12.200a2.800 2.800 0 0 0-1.200 5" stroke="#3f6fd8" stroke-width="1.100"/><path d="M119.600 9.800a5.100 5.100 0 0 1 3.600 8" stroke="#7fbf7f" stroke-width="1.100"/><path d="M119.600 12.200a2.800 2.800 0 0 1 2 4" stroke="#6ab56a" stroke-width="1"/></g>
<circle cx="119" cy="14.700" r="1.500" fill="#2a5fd0"/><path d="M119.700 15.200v7.500" stroke="#22a822" stroke-width="1.500"/>
<path d="M138.600 13l15.400 0.200-3.400 7.600-4.800 2.200z" fill="url(#gd)" stroke="#c89a20" stroke-width="0.500"/>
<path d="M138 11.900c0-1.300 1.900-2.100 3.800-2.400.3-1.600 1.900-2.500 4.100-2.500 2.300 0 3.800.9 4.100 2.500 2 .3 4 1 4 2.400 0 1.500-3.400 2.500-8 2.500-4.700 0-8-1-8-2.500z" fill="#5db2e6" stroke="#2472b0" stroke-width="0.800"/>
<path d="M141.800 9.600c1 1.300 7.200 1.300 8.200 0" stroke="#2472b0" stroke-width="0.700" fill="none"/><path d="M143.400 8.400c.8-.6 3.500-.7 4.600 0" stroke="#c8e8fa" stroke-width="0.800" fill="none"/>
<circle cx="150.600" cy="18.800" r="4.200" fill="url(#rd)"/><rect x="149.100" y="17.300" width="3" height="3" fill="#fff"/>
<text x="158.800" y="18.200" font-size="12" fill="#000" stroke="#000" stroke-width="0.25" style="font-family:'Liberation Sans','Noto Sans CJK SC',sans-serif">自动交易</text>
<rect x="214" y="2" width="1" height="25" fill="#8c8c8c"/>
<rect x="215" y="2" width="1" height="25" fill="#fff"/>
<rect x="218" y="5" width="3" height="1" fill="#a0a0a0"/>
<rect x="218" y="7" width="3" height="1" fill="#a0a0a0"/>
<rect x="218" y="9" width="3" height="1" fill="#a0a0a0"/>
<rect x="218" y="11" width="3" height="1" fill="#a0a0a0"/>
<rect x="218" y="13" width="3" height="1" fill="#a0a0a0"/>
<rect x="218" y="15" width="3" height="1" fill="#a0a0a0"/>
<rect x="218" y="17" width="3" height="1" fill="#a0a0a0"/>
<rect x="218" y="19" width="3" height="1" fill="#a0a0a0"/>
<rect x="218" y="21" width="3" height="1" fill="#a0a0a0"/>
<rect x="218" y="23" width="3" height="1" fill="#a0a0a0"/>
<g fill="#505050" shape-rendering="crispEdges"><rect x="232" y="10" width="1" height="13"/><rect x="230" y="20" width="13" height="1"/></g>
<path d="M230.6 11.6l1.900-2.600 1.900 2.600z M241.400 18.600l2.600 1.900-2.600 1.900z" fill="#505050"/>
<g fill="#1fa01f" shape-rendering="crispEdges"><rect x="238" y="10" width="1" height="9"/><rect x="239" y="11" width="2" height="1"/><rect x="236" y="17" width="2" height="1"/></g>
<rect x="252" y="3" width="26" height="22" fill="#f8f8f8"/>
<rect x="252" y="3" width="26" height="1" fill="#a0a0a0"/><rect x="252" y="3" width="1" height="22" fill="#a0a0a0"/>
<rect x="252" y="24" width="26" height="1" fill="#fff"/><rect x="277" y="3" width="1" height="22" fill="#fff"/>
<g fill="#505050" shape-rendering="crispEdges"><rect x="260" y="10" width="1" height="13"/><rect x="258" y="20" width="13" height="1"/></g>
<path d="M258.600 11.600l1.900-2.600 1.900 2.600z M269.400 18.600l2.600 1.900-2.600 1.900z" fill="#505050"/>
<g shape-rendering="crispEdges"><rect x="266" y="7" width="1" height="12" fill="#1a8a1a"/><rect x="264" y="9" width="5" height="8" fill="#1a8a1a"/><rect x="265" y="10" width="3" height="6" fill="#3ee03e"/></g>
<g fill="#505050" shape-rendering="crispEdges"><rect x="288" y="10" width="1" height="13"/><rect x="286" y="20" width="13" height="1"/></g>
<path d="M286.600 11.600l1.900-2.600 1.900 2.600z M297.400 18.600l2.600 1.900-2.600 1.900z" fill="#505050"/>
<path d="M287 17.700C290 15.500 291.500 12.300 293.200 12.300S296.500 15 298.600 16.200" stroke="#2a9a2a" stroke-width="1.100" fill="none"/>
<rect x="309" y="4" width="1" height="21" fill="#a0a0a0"/>
<rect x="310" y="4" width="1" height="21" fill="#fff"/>
<path d="M328.200 17.200l4.600 4.800" stroke="#9a7a10" stroke-width="3.200" stroke-linecap="round"/><path d="M328.200 17.200l4.600 4.800" stroke="#e8cc3a" stroke-width="1.800" stroke-linecap="round"/>
<circle cx="324" cy="13" r="5.400" fill="url(#gl)" stroke="#3c82d6" stroke-width="1.200"/>
<rect x="320.800" y="12" width="6.400" height="2" fill="#3784b4"/>
<rect x="323" y="9.800" width="2" height="6.400" fill="#3784b4"/>
<path d="M356.200 17.200l4.600 4.800" stroke="#9a7a10" stroke-width="3.200" stroke-linecap="round"/><path d="M356.200 17.200l4.600 4.800" stroke="#e8cc3a" stroke-width="1.800" stroke-linecap="round"/>
<circle cx="352" cy="13" r="5.400" fill="url(#gl)" stroke="#3c82d6" stroke-width="1.200"/>
<rect x="348.800" y="12" width="6.400" height="2" fill="#3784b4"/>
<rect x="374" y="7" width="8" height="8" fill="#4cac1e"/><rect x="374" y="7" width="8" height="2.500" fill="#3a9612"/><rect x="375" y="10.300" width="6" height="3.900" fill="#fff"/><rect x="376" y="11.500" width="4" height="0.800" fill="#4cac1e" opacity="0.500"/><rect x="375" y="8" width="1" height="1" fill="#fff" opacity="0.800"/>
<rect x="382" y="7" width="8" height="8" fill="#2c5ee0"/><rect x="382" y="7" width="8" height="2.500" fill="#1e48c4"/><rect x="383" y="10.300" width="6" height="3.900" fill="#fff"/><rect x="384" y="11.500" width="4" height="0.800" fill="#2c5ee0" opacity="0.500"/><rect x="383" y="8" width="1" height="1" fill="#fff" opacity="0.800"/>
<rect x="374" y="15" width="8" height="8" fill="#2c5ee0"/><rect x="374" y="15" width="8" height="2.500" fill="#1e48c4"/><rect x="375" y="18.300" width="6" height="3.900" fill="#fff"/><rect x="376" y="19.500" width="4" height="0.800" fill="#2c5ee0" opacity="0.500"/><rect x="375" y="16" width="1" height="1" fill="#fff" opacity="0.800"/>
<rect x="382" y="15" width="8" height="8" fill="#4cac1e"/><rect x="382" y="15" width="8" height="2.500" fill="#3a9612"/><rect x="383" y="18.300" width="6" height="3.900" fill="#fff"/><rect x="384" y="19.500" width="4" height="0.800" fill="#4cac1e" opacity="0.500"/><rect x="383" y="16" width="1" height="1" fill="#fff" opacity="0.800"/>
<rect x="399" y="4" width="1" height="21" fill="#a0a0a0"/>
<rect x="400" y="4" width="1" height="21" fill="#fff"/>
<rect x="404" y="3" width="25" height="22" fill="#f8f8f8"/>
<rect x="404" y="3" width="25" height="1" fill="#a0a0a0"/><rect x="404" y="3" width="1" height="22" fill="#a0a0a0"/>
<rect x="404" y="24" width="25" height="1" fill="#fff"/><rect x="428" y="3" width="1" height="22" fill="#fff"/>
<g fill="#505050" shape-rendering="crispEdges"><rect x="412" y="10" width="1" height="13"/><rect x="410" y="20" width="13" height="1"/></g>
<path d="M410.600 11.600l1.900-2.600 1.900 2.600z M421.400 18.600l2.600 1.900-2.600 1.900z" fill="#505050"/>
<path d="M417.200 11.400v6.300l3.800-3.200z" fill="#7fe07f" stroke="#1a9a1a" stroke-width="0.900"/>
<rect x="432" y="3" width="26" height="22" fill="#f8f8f8"/>
<rect x="432" y="3" width="26" height="1" fill="#a0a0a0"/><rect x="432" y="3" width="1" height="22" fill="#a0a0a0"/>
<rect x="432" y="24" width="26" height="1" fill="#fff"/><rect x="457" y="3" width="1" height="22" fill="#fff"/>
<g fill="#505050" shape-rendering="crispEdges"><rect x="440" y="10" width="1" height="13"/><rect x="438" y="20" width="13" height="1"/></g>
<path d="M438.600 11.600l1.900-2.600 1.900 2.600z M449.400 18.600l2.600 1.900-2.600 1.900z" fill="#505050"/>
<rect x="446" y="9" width="1" height="10" fill="#1e6ea6" shape-rendering="crispEdges"/><path d="M447.400 14.400l2.600-2.200v1.600h2v1.200h-2v1.600z" fill="#e0480a"/>
<rect x="461" y="4" width="1" height="21" fill="#a0a0a0"/>
<rect x="462" y="4" width="1" height="21" fill="#fff"/>
<path d="M471.600 7.600h7.400l3.200 3v9.800h-10.600z" fill="#fcfcfc" stroke="#8a8a8a" stroke-width="0.800"/><path d="M479 7.600v3h3.200" fill="#e4e4e4" stroke="#8a8a8a" stroke-width="0.600"/><path d="M475.600 10.600c-1.400.4-1.600 1.600-1.600 3.400s0 3-1 3.400" stroke="#6a5a3a" stroke-width="0.800" fill="none"/>
<path d="M479.300 13.200h3.600v3.800h3.800v3.600h-3.800v3.800h-3.600v-3.800h-3.800v-3.600h3.800z" fill="#22c022" stroke="#0f8a0f" stroke-width="0.800"/><path d="M480.300 14.400h1.600v3.800h3.800v1.400h-3.800v3.800h-1.600v-3.800h-3.800v-1.400h3.800z" fill="#6cf06c" opacity="0.700"/>
<path d="M493 14h5l-2.500 3z" fill="#000"/>
<defs><linearGradient id="ck" x1="0.150" y1="0.100" x2="0.850" y2="0.900"><stop offset="0" stop-color="#45a6fa"/><stop offset="0.500" stop-color="#0f6ed8"/><stop offset="1" stop-color="#0a4298"/></linearGradient></defs><circle cx="516.900" cy="14.800" r="6.800" fill="#fbfbfb" stroke="url(#ck)" stroke-width="2.400"/>
<path d="M516.400 11.600v3.700l3-.8" stroke="#1a1a1a" stroke-width="1.200" fill="none"/><path d="M516.900 15l-1.600 2.600" stroke="#6aa8f0" stroke-width="0.800"/>
<g fill="#9a9a9a"><rect x="516.500" y="9.600" width="0.800" height="0.800"/><rect x="516.500" y="19.400" width="0.800" height="0.800"/><rect x="511.600" y="14.500" width="0.800" height="0.800"/><rect x="521.400" y="14.500" width="0.800" height="0.800"/><rect x="513" y="11" width="0.700" height="0.700"/><rect x="520.200" y="11" width="0.700" height="0.700"/><rect x="513" y="18.200" width="0.700" height="0.700"/><rect x="520.200" y="18.200" width="0.700" height="0.700"/></g>
<path d="M532 14h5l-2.500 3z" fill="#000"/>
<rect x="548.500" y="8.500" width="15" height="13" fill="#fff" stroke="#3a72c4" stroke-width="1"/><rect x="548" y="8" width="16" height="2.500" fill="#3a72c4"/><rect x="549" y="8.800" width="6" height="0.800" fill="#cfe0f8"/><rect x="549" y="15" width="14" height="1" fill="#3a72c4"/>
<path d="M550 13.800l2-.2 1.400-1.200 1.800.8 2 .2 1.800-1 2-.4" stroke="#8a1a0a" stroke-width="1" fill="none"/><path d="M551 19.600l1.800-.2 1.600-1 1.800.8 2.200-2 2.200 2" stroke="#1a8a1a" stroke-width="1" fill="none"/>
<path d="M571 14h5l-2.500 3z" fill="#000"/>
<rect x="582" y="2" width="1" height="25" fill="#8c8c8c"/>
<rect x="583" y="2" width="1" height="25" fill="#fff"/>
<rect x="586" y="5" width="3" height="1" fill="#a0a0a0"/>
<rect x="586" y="7" width="3" height="1" fill="#a0a0a0"/>
<rect x="586" y="9" width="3" height="1" fill="#a0a0a0"/>
<rect x="586" y="11" width="3" height="1" fill="#a0a0a0"/>
<rect x="586" y="13" width="3" height="1" fill="#a0a0a0"/>
<rect x="586" y="15" width="3" height="1" fill="#a0a0a0"/>
<rect x="586" y="17" width="3" height="1" fill="#a0a0a0"/>
<rect x="586" y="19" width="3" height="1" fill="#a0a0a0"/>
<rect x="586" y="21" width="3" height="1" fill="#a0a0a0"/>
<rect x="586" y="23" width="3" height="1" fill="#a0a0a0"/>
<rect x="592" y="3" width="26" height="22" fill="#f8f8f8"/>
<rect x="592" y="3" width="26" height="1" fill="#a0a0a0"/><rect x="592" y="3" width="1" height="22" fill="#a0a0a0"/>
<rect x="592" y="24" width="26" height="1" fill="#fff"/><rect x="617" y="3" width="1" height="22" fill="#fff"/>
<path d="M600.200 7.800v11.400l2.800-2.600 2.200 4.800 1.900-.9-2.200-4.600 3.700-.3z" fill="#505050"/>
<g fill="#404040" shape-rendering="crispEdges"><rect x="632" y="8" width="1" height="6"/><rect x="632" y="17" width="1" height="6"/><rect x="625" y="15" width="6" height="1"/><rect x="634" y="15" width="6" height="1"/></g>
<rect x="649" y="4" width="1" height="21" fill="#a0a0a0"/>
<rect x="650" y="4" width="1" height="21" fill="#fff"/>
<g fill="#404040" shape-rendering="crispEdges"><rect x="666" y="9" width="1" height="13"/><rect x="689" y="15" width="12" height="1"/></g>
<path d="M716.800 22L729.200 9.800" stroke="#404040" stroke-width="1" fill="none"/>
<g stroke="#404040" fill="none"><path d="M742.500 16.600L751 8.800M747.700 21.800L757.500 13" stroke-width="0.800"/><path d="M745.400 14.500v7M748.500 13.400v5.200M751.600 11.400v5.800M754.500 7.200v6.800" stroke-width="1.200"/><path d="M744 20.800h1.400M745.400 16.400h1.200M747.400 17.400h1.100M748.500 14.800h1.200M750.400 15.800h1.200M751.600 12.800h1.200M753.400 13h1.100M754.500 9.200h1.200" stroke-width="0.800"/></g>
<text x="753.600" y="23.800" font-size="6.500" font-weight="bold" fill="#404040">E</text>
<path d="M772 8.500h13" stroke="#404040" stroke-width="1" stroke-dasharray="1 1" shape-rendering="crispEdges"/>
<path d="M772 11.500h13" stroke="#404040" stroke-width="1" stroke-dasharray="1 1" shape-rendering="crispEdges"/>
<path d="M772 15.500h13" stroke="#404040" stroke-width="1" stroke-dasharray="1 1" shape-rendering="crispEdges"/>
<path d="M772 19.500h9" stroke="#404040" stroke-width="1" stroke-dasharray="1 1" shape-rendering="crispEdges"/>
<text x="781.800" y="23.800" font-size="6.500" font-weight="bold" fill="#404040">F</text>
<text x="802.600" y="19.800" font-size="11.600" fill="#404040" stroke="#404040" stroke-width="0.350" textLength="7.800" lengthAdjust="spacingAndGlyphs">A</text>
<rect x="829.500" y="9.500" width="11" height="12" fill="none" stroke="#404040" stroke-width="1" stroke-dasharray="1 1" shape-rendering="crispEdges"/><rect x="828" y="8" width="2" height="2" fill="#404040"/>
<path d="M831 12.300h7.800v1.300h-3.200v6.200h-1.400v-6.200h-3.200z" fill="#404040"/>
<path d="M859.400 8.900l3.600 3.700-3.600 1.100-3.500-1.100z M866.400 22l3.500-3.800-3.500-1.200-3.500 1.200z" fill="#404040"/><path d="M858.400 16l2.200 2 4.800-5.400" stroke="#404040" stroke-width="1.200" fill="none"/>
<path d="M877 14h5l-2.500 3z" fill="#000"/>
<rect x="888" y="2" width="1" height="25" fill="#8c8c8c"/>
<rect x="889" y="2" width="1" height="25" fill="#fff"/>
<rect x="892" y="5" width="3" height="1" fill="#a0a0a0"/>
<rect x="892" y="7" width="3" height="1" fill="#a0a0a0"/>
<rect x="892" y="9" width="3" height="1" fill="#a0a0a0"/>
<rect x="892" y="11" width="3" height="1" fill="#a0a0a0"/>
<rect x="892" y="13" width="3" height="1" fill="#a0a0a0"/>
<rect x="892" y="15" width="3" height="1" fill="#a0a0a0"/>
<rect x="892" y="17" width="3" height="1" fill="#a0a0a0"/>
<rect x="892" y="19" width="3" height="1" fill="#a0a0a0"/>
<rect x="892" y="21" width="3" height="1" fill="#a0a0a0"/>
<rect x="892" y="23" width="3" height="1" fill="#a0a0a0"/>
<rect x="1038" y="3" width="26" height="22" fill="#f8f8f8"/>
<rect x="1038" y="3" width="26" height="1" fill="#a0a0a0"/><rect x="1038" y="3" width="1" height="22" fill="#a0a0a0"/>
<rect x="1038" y="24" width="26" height="1" fill="#fff"/><rect x="1063" y="3" width="1" height="22" fill="#fff"/>
<text x="903.500" y="19" font-size="10" textLength="12.900" lengthAdjust="spacingAndGlyphs" fill="#404040" style="text-rendering:geometricPrecision">M1</text>
<text x="931.500" y="19" font-size="10" textLength="13.100" lengthAdjust="spacingAndGlyphs" fill="#404040" style="text-rendering:geometricPrecision">M5</text>
<text x="957.300" y="19" font-size="10" textLength="18.000" lengthAdjust="spacingAndGlyphs" fill="#404040" style="text-rendering:geometricPrecision">M15</text>
<text x="985.400" y="19" font-size="10" textLength="18.100" lengthAdjust="spacingAndGlyphs" fill="#404040" style="text-rendering:geometricPrecision">M30</text>
<text x="1016.700" y="19" font-size="10" textLength="12.000" lengthAdjust="spacingAndGlyphs" fill="#404040" style="text-rendering:geometricPrecision">H1</text>
<text x="1043.500" y="19" font-size="10" textLength="12.800" lengthAdjust="spacingAndGlyphs" fill="#404040" style="text-rendering:geometricPrecision">H4</text>
<text x="1072.700" y="19" font-size="10" textLength="11.800" lengthAdjust="spacingAndGlyphs" fill="#404040" style="text-rendering:geometricPrecision">D1</text>
<text x="1100.200" y="19" font-size="10" textLength="14.100" lengthAdjust="spacingAndGlyphs" fill="#404040" style="text-rendering:geometricPrecision">W1</text>
<text x="1126.700" y="19" font-size="10" textLength="14.700" lengthAdjust="spacingAndGlyphs" fill="#404040" style="text-rendering:geometricPrecision">MN</text>
<rect x="1149" y="2" width="1" height="25" fill="#8c8c8c"/>
<rect x="1150" y="2" width="1" height="25" fill="#fff"/>
<circle cx="1619.700" cy="12.400" r="4" fill="#f6f8fc" stroke="#2a5fd0" stroke-width="1.300"/><path d="M1616.600 15.600l-4.200 4.200" stroke="#2a5fd0" stroke-width="2.400" stroke-linecap="round"/>
<path d="M1637 17.500c0-3 2.400-5 5.400-5s5.400 2 5.400 4.600-2.400 4.400-5.400 4.400c-.6 0-1.200 0-1.800-.2l-1.800 2.200-.2-2.800c-1-.8-1.600-1.900-1.600-3.200z" fill="#eef0f4" stroke="#b0b4bc" stroke-width="0.800"/>
<circle cx="1650.500" cy="12.400" r="8.200" fill="url(#rd)"/><text x="1649.800" y="16.900" font-size="12" text-anchor="middle" fill="#fff">1</text>
</svg>
</body></html>
